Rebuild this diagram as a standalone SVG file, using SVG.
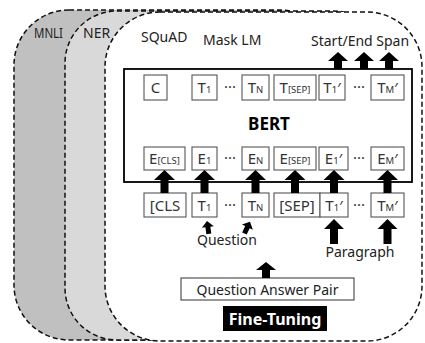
<svg xmlns="http://www.w3.org/2000/svg" width="425" height="343" viewBox="0 0 425 343">
<style>
.task{stroke:#111;stroke-width:1.5;stroke-dasharray:5 3}
.lbl{font-family:"Noto Sans","Open Sans",sans-serif;font-size:14px;fill:#222}
.bx{fill:#fff;stroke:#555;stroke-width:1.1}
.bt{font-family:"Noto Sans","Open Sans",sans-serif;font-size:15px;fill:#333;text-anchor:middle}
.sub{font-size:9.5px}
.arr{fill:#000}
</style>
<g id="task-mnli">
<rect class="task" x="14" y="10" width="320" height="330" rx="55" fill="#c0c0c0"/>
<text class="lbl" x="34" y="38" font-size="13.5" textLength="29" lengthAdjust="spacingAndGlyphs">MNLI</text>
</g>
<g id="task-ner">
<rect class="task" x="65" y="11" width="320" height="329" rx="52" fill="#d9d9d9"/>
<text class="lbl" x="83" y="38" font-size="13.5">NER</text>
</g>
<g id="task-squad">
<rect class="task" x="105" y="12" width="317" height="329" rx="55" fill="#fff"/>
<text class="lbl" x="141" y="42">SQuAD</text>
<text class="lbl" x="203" y="45">Mask LM</text>
<text class="lbl" x="311" y="46">Start/End Span</text>
</g>
<g id="bert">
<rect x="124" y="69" width="288" height="113" fill="#fff" stroke="#000" stroke-width="1.8"/>
<text x="269" y="130" font-family="Noto Sans,Open Sans,sans-serif" font-size="17" font-weight="bold" text-anchor="middle" fill="#000">BERT</text>
</g>
<g id="out-row">
<rect class="bx" x="144" y="75" width="23" height="25"/><text class="bt" x="155.5" y="93">C</text>
<rect class="bx" x="192" y="75" width="25" height="25"/><text class="bt" x="204.5" y="93">T<tspan class="sub">1</tspan></text>
<text class="bt" x="230" y="92" font-size="10">···</text>
<rect class="bx" x="242" y="75" width="27" height="25"/><text class="bt" x="255.5" y="93">T<tspan class="sub">N</tspan></text>
<rect class="bx" x="274" y="75" width="42" height="25"/><text class="bt" x="295" y="93">T<tspan class="sub">[SEP]</tspan></text>
<rect class="bx" x="319" y="75" width="26" height="25"/><text class="bt" x="332" y="93">T<tspan class="sub">1</tspan>′</text>
<text class="bt" x="359" y="92" font-size="10">···</text>
<rect class="bx" x="371" y="75" width="33" height="25"/><text class="bt" x="387.5" y="93">T<tspan class="sub">M</tspan>′</text>
</g>
<g id="emb-row">
<rect class="bx" x="144" y="147" width="41" height="23"/><text class="bt" x="164.5" y="164">E<tspan class="sub">[CLS]</tspan></text>
<rect class="bx" x="192" y="147" width="25" height="23"/><text class="bt" x="204.5" y="164">E<tspan class="sub">1</tspan></text>
<text class="bt" x="230" y="163" font-size="10">···</text>
<rect class="bx" x="242" y="147" width="27" height="23"/><text class="bt" x="255.5" y="164">E<tspan class="sub">N</tspan></text>
<rect class="bx" x="274" y="147" width="42" height="23"/><text class="bt" x="295" y="164">E<tspan class="sub">[SEP]</tspan></text>
<rect class="bx" x="319" y="147" width="29" height="23"/><text class="bt" x="333.5" y="164">E<tspan class="sub">1</tspan>′</text>
<text class="bt" x="359" y="163" font-size="10">···</text>
<rect class="bx" x="371" y="147" width="33" height="23"/><text class="bt" x="387.5" y="164">E<tspan class="sub">M</tspan>′</text>
</g>
<g id="in-row">
<rect class="bx" x="144" y="193" width="42" height="24"/><text class="bt" x="165" y="211" font-size="16">[CLS</text>
<rect class="bx" x="192" y="193" width="25" height="24"/><text class="bt" x="204.5" y="211">T<tspan class="sub">1</tspan></text>
<text class="bt" x="230" y="210" font-size="10">···</text>
<rect class="bx" x="242" y="193" width="27" height="24"/><text class="bt" x="255.5" y="211">T<tspan class="sub">N</tspan></text>
<rect class="bx" x="274" y="193" width="46" height="24"/><text class="bt" x="297" y="211" font-size="16">[SEP]</text>
<rect class="bx" x="320" y="193" width="28" height="24"/><text class="bt" x="334" y="211">T<tspan class="sub">1</tspan>′</text>
<text class="bt" x="359" y="210" font-size="10">···</text>
<rect class="bx" x="371" y="193" width="33" height="24"/><text class="bt" x="387.5" y="211">T<tspan class="sub">M</tspan>′</text>
</g>
<g id="question">
<text class="lbl" x="227" y="245" font-size="14.5" text-anchor="middle">Question</text>
</g>
<g id="paragraph">
<text class="lbl" x="360" y="257" font-size="14.5" text-anchor="middle">Paragraph</text>
</g>
<g id="qa-pair">
<rect x="181" y="278" width="173" height="22" fill="#fff" stroke="#444" stroke-width="1.1"/>
<text class="lbl" x="267.5" y="295" font-size="16" text-anchor="middle">Question Answer Pair</text>
</g>
<g id="fine-tuning">
<rect x="223" y="306" width="104" height="25" fill="#000"/>
<text x="275" y="324.5" font-family="Noto Sans,Open Sans,sans-serif" font-size="16" font-weight="bold" fill="#fff" text-anchor="middle">Fine-Tuning</text>
</g>
<g id="connectors" class="arr">
<path d="M338 52 L348 61 L342 61 L342 69 L334 69 L334 61 L328 61 Z"/>
<path d="M364 52 L374 61 L368 61 L368 69 L360 69 L360 61 L354 61 Z"/>
<path d="M389 52 L399 61 L393 61 L393 69 L385 69 L385 61 L379 61 Z"/>
<path d="M164.5 170 L175 180 L168.5 180 L168.5 193 L160.5 193 L160.5 180 L154 180 Z"/>
<path d="M204.5 170 L215 180 L208.5 180 L208.5 193 L200.5 193 L200.5 180 L194 180 Z"/>
<path d="M255.5 170 L266 180 L259.5 180 L259.5 193 L251.5 193 L251.5 180 L245 180 Z"/>
<path d="M295 170 L305.5 180 L299 180 L299 193 L291 193 L291 180 L284.5 180 Z"/>
<path d="M334 170 L344.5 180 L338 180 L338 193 L330 193 L330 180 L323.5 180 Z"/>
<path d="M387.5 170 L398 180 L391.5 180 L391.5 193 L383.5 193 L383.5 180 L377 180 Z"/>
<path transform="rotate(-8 208 228)" d="M208 221 L214 227 L210.5 227 L210.5 234 L205.5 234 L205.5 227 L202 227 Z"/>
<path transform="rotate(25 247 228)" d="M247 221 L253 227 L249.5 227 L249.5 234 L244.5 234 L244.5 227 L241 227 Z"/>
<path d="M334 219 L344 229 L338 229 L338 244 L330 244 L330 229 L324 229 Z"/>
<path d="M387.5 219 L397.5 229 L391.5 229 L391.5 244 L383.5 244 L383.5 229 L377.5 229 Z"/>
<path d="M266 262 L276 270 L270 270 L270 278 L262 278 L262 270 L256 270 Z"/>
</g>
</svg>
